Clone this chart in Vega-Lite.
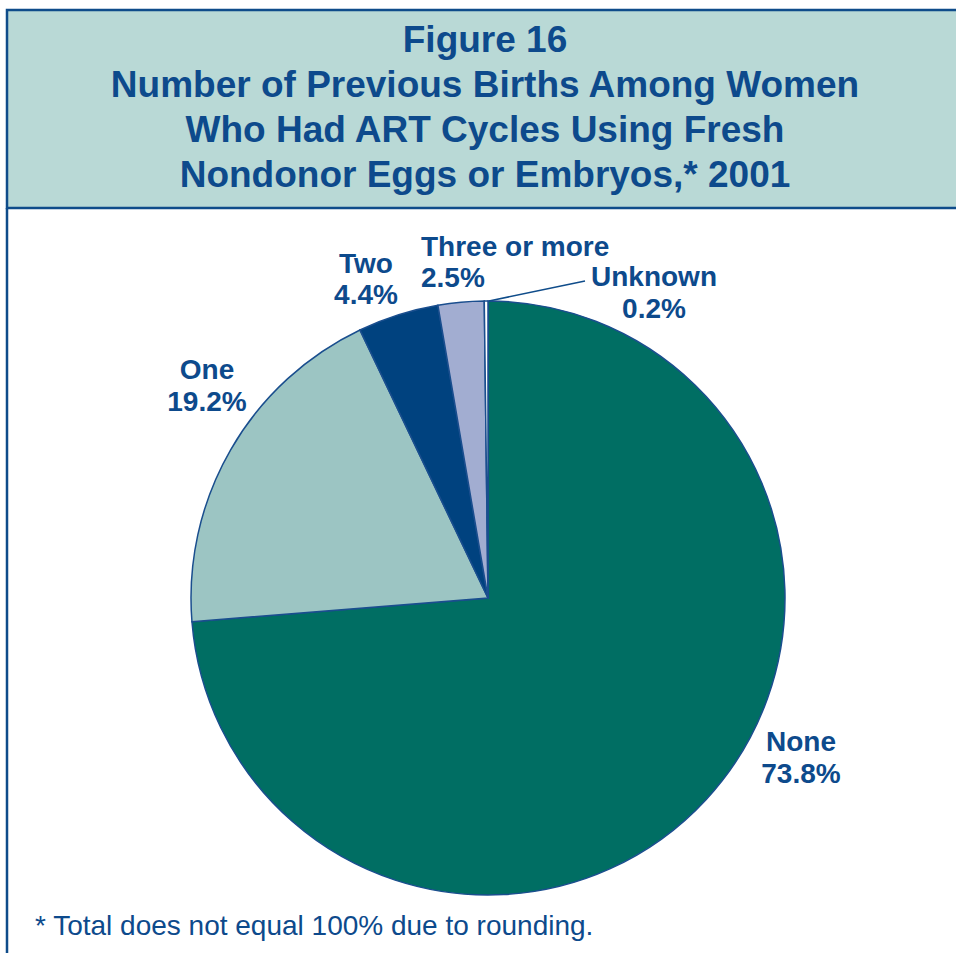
{
  "$schema": "https://vega.github.io/schema/vega-lite/v6.json",
  "width": 956,
  "height": 953,
  "autosize": {"type": "none"},
  "padding": 0,
  "background": "white",
  "config": {"view": {"stroke": null}, "font": "Liberation Sans"},
  "datasets": {
    "slices": [
      {"category": "None", "percent": 73.8, "ord": 1, "label": "None\n73.8%"},
      {"category": "One", "percent": 19.2, "ord": 2, "label": "One\n19.2%"},
      {"category": "Two", "percent": 4.4, "ord": 3, "label": "Two\n4.4%"},
      {"category": "Three or more", "percent": 2.5, "ord": 4, "label": "Three or more\n2.5%"},
      {"category": "Unknown", "percent": 0.2, "ord": 5, "label": "Unknown\n0.2%"}
    ],
    "titles": [
      {"kind": "title", "text": "Figure 16\nNumber of Previous Births Among Women\nWho Had ART Cycles Using Fresh\nNondonor Eggs or Embryos,* 2001"},
      {"kind": "note", "text": "* Total does not equal 100% due to rounding."}
    ]
  },
  "layer": [
    {
      "data": {"values": [{"part": "box"}]},
      "mark": {"type": "rect", "fill": "#b9d9d6", "stroke": "#0f4c8a", "strokeWidth": 2.5, "clip": true},
      "encoding": {
        "x": {"datum": 7, "type": "quantitative", "scale": {"domain": [0, 956], "nice": false, "zero": false}, "axis": null},
        "x2": {"datum": 975},
        "y": {"datum": 10, "type": "quantitative", "scale": {"domain": [0, 953], "nice": false, "zero": false, "reverse": true}, "axis": null},
        "y2": {"datum": 208}
      }
    },
    {
      "data": {"values": [{"part": "leftline"}]},
      "mark": {"type": "rule", "stroke": "#0f4c8a", "strokeWidth": 2.5},
      "encoding": {
        "x": {"datum": 7, "type": "quantitative"},
        "y": {"datum": 208, "type": "quantitative"},
        "y2": {"datum": 953}
      }
    },
    {
      "data": {"name": "titles"},
      "transform": [{"filter": "datum.kind == 'title'"}],
      "mark": {"type": "text", "fontSize": 37, "fontWeight": "bold", "align": "center", "baseline": "alphabetic", "lineBreak": "\n", "lineHeight": 45, "color": "#0d4a8c"},
      "encoding": {
        "text": {"field": "text"},
        "x": {"datum": 485, "type": "quantitative"},
        "y": {"datum": 52, "type": "quantitative"}
      }
    },
    {
      "data": {"name": "titles"},
      "transform": [{"filter": "datum.kind == 'note'"}],
      "mark": {"type": "text", "fontSize": 28, "align": "left", "baseline": "alphabetic", "color": "#0d4a8c"},
      "encoding": {
        "text": {"field": "text"},
        "x": {"datum": 35, "type": "quantitative"},
        "y": {"datum": 935, "type": "quantitative"}
      }
    },
    {
      "data": {"name": "slices"},
      "mark": {"type": "arc", "outerRadius": 297, "stroke": "#1a4e8e", "strokeWidth": 1.5},
      "encoding": {
        "theta": {"field": "percent", "type": "quantitative", "stack": true},
        "order": {"field": "ord", "type": "quantitative"},
        "color": {
          "field": "category",
          "type": "nominal",
          "scale": {
            "domain": ["None", "One", "Two", "Three or more", "Unknown"],
            "range": ["#006e63", "#9cc5c3", "#00427f", "#a2add1", "#ffffff"]
          },
          "legend": null
        },
        "x": {"datum": 488, "type": "quantitative"},
        "y": {"datum": 598, "type": "quantitative"}
      }
    },
    {
      "data": {"values": [{"part": "leader"}]},
      "mark": {"type": "rule", "stroke": "#0f4c8a", "strokeWidth": 1.5},
      "encoding": {
        "x": {"datum": 585, "type": "quantitative"},
        "y": {"datum": 281, "type": "quantitative"},
        "x2": {"datum": 489},
        "y2": {"datum": 301}
      }
    },
    {
      "data": {"name": "slices"},
      "transform": [{"filter": "datum.category == 'None'"}],
      "mark": {"type": "text", "fontSize": 28, "fontWeight": "bold", "align": "center", "baseline": "alphabetic", "lineBreak": "\n", "lineHeight": 32, "color": "#0d4a8c"},
      "encoding": {"text": {"field": "label"}, "x": {"datum": 801, "type": "quantitative"}, "y": {"datum": 751, "type": "quantitative"}}
    },
    {
      "data": {"name": "slices"},
      "transform": [{"filter": "datum.category == 'One'"}],
      "mark": {"type": "text", "fontSize": 28, "fontWeight": "bold", "align": "center", "baseline": "alphabetic", "lineBreak": "\n", "lineHeight": 32, "color": "#0d4a8c"},
      "encoding": {"text": {"field": "label"}, "x": {"datum": 207, "type": "quantitative"}, "y": {"datum": 379, "type": "quantitative"}}
    },
    {
      "data": {"name": "slices"},
      "transform": [{"filter": "datum.category == 'Two'"}],
      "mark": {"type": "text", "fontSize": 28, "fontWeight": "bold", "align": "center", "baseline": "alphabetic", "lineBreak": "\n", "lineHeight": 31, "color": "#0d4a8c"},
      "encoding": {"text": {"field": "label"}, "x": {"datum": 366, "type": "quantitative"}, "y": {"datum": 273, "type": "quantitative"}}
    },
    {
      "data": {"name": "slices"},
      "transform": [{"filter": "datum.category == 'Three or more'"}],
      "mark": {"type": "text", "fontSize": 28, "fontWeight": "bold", "align": "left", "baseline": "alphabetic", "lineBreak": "\n", "lineHeight": 31, "color": "#0d4a8c"},
      "encoding": {"text": {"field": "label"}, "x": {"datum": 421, "type": "quantitative"}, "y": {"datum": 256, "type": "quantitative"}}
    },
    {
      "data": {"name": "slices"},
      "transform": [{"filter": "datum.category == 'Unknown'"}],
      "mark": {"type": "text", "fontSize": 28, "fontWeight": "bold", "align": "center", "baseline": "alphabetic", "lineBreak": "\n", "lineHeight": 32, "color": "#0d4a8c"},
      "encoding": {"text": {"field": "label"}, "x": {"datum": 654, "type": "quantitative"}, "y": {"datum": 286, "type": "quantitative"}}
    }
  ]
}
